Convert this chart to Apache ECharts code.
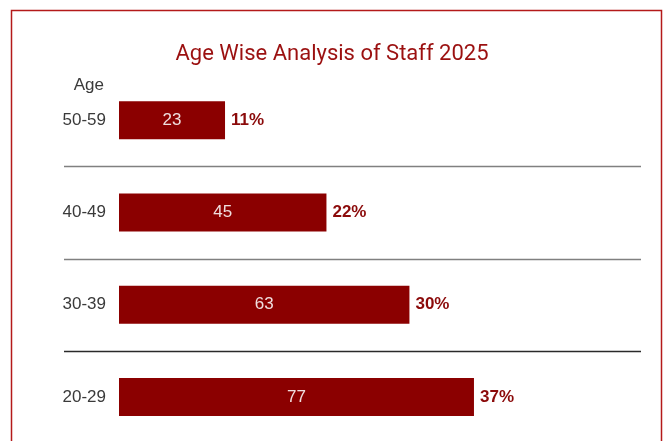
<!DOCTYPE html>
<html>
<head>
<meta charset="utf-8">
<script src="https://cdn.jsdelivr.net/npm/echarts@6/dist/echarts.min.js"></script>
<style>
  html, body { margin: 0; padding: 0; background: #ffffff; }
  #chart { width: 664px; height: 441px; }
</style>
</head>
<body>
<div id="chart"></div>
<script>
// Staff headcount by age band
const ageBands = ['50-59', '40-49', '30-39', '20-29'];
const staffCounts = [23, 45, 63, 77];
const percentLabels = ['11%', '22%', '30%', '37%'];

const chart = echarts.init(document.getElementById('chart'));

const option = {
  backgroundColor: '#ffffff',
  animation: false,
  title: {
    text: 'Age Wise Analysis of Staff 2025',
    left: 'center',
    top: 38,
    textStyle: {
      fontFamily: 'Roboto',
      fontSize: 22,
      fontWeight: 'normal',
      color: '#9b1010'
    }
  },
  grid: {
    left: 119,
    right: 84,
    top: 74,
    height: 369,
    outerBoundsMode: 'none'
  },
  xAxis: {
    type: 'value',
    min: 0,
    max: 100,
    show: false
  },
  yAxis: {
    type: 'category',
    data: ageBands,
    inverse: true,
    name: 'Age',
    nameLocation: 'start',
    nameGap: 0,
    nameTextStyle: {
      fontFamily: 'Liberation Sans',
      fontSize: 17,
      color: '#3a3a3a',
      align: 'right',
      verticalAlign: 'top',
      padding: [3, 15, 0, 0]
    },
    axisLine: { show: false },
    axisTick: { show: false },
    splitLine: { show: false },
    axisLabel: {
      margin: 13,
      fontFamily: 'Liberation Sans',
      fontSize: 17,
      color: '#3a3a3a'
    }
  },
  series: [
    {
      type: 'bar',
      data: staffCounts,
      barWidth: 38,
      itemStyle: { color: '#8b0000' },
      label: {
        show: true,
        position: 'inside',
        fontFamily: 'Liberation Sans',
        fontSize: 17,
        color: '#f0dede'
      }
    },
    {
      // percentage share label placed after each bar
      type: 'bar',
      data: staffCounts,
      barWidth: 38,
      barGap: '-100%',
      itemStyle: { color: 'transparent' },
      silent: true,
      label: {
        show: true,
        position: 'right',
        distance: 6,
        fontFamily: 'Liberation Sans',
        fontSize: 17,
        fontWeight: 'bold',
        color: '#8b0a0a',
        formatter: (p) => percentLabels[p.dataIndex]
      }
    }
  ]
};

chart.setOption(option);

// Frame and separators between the age bands
function drawDecor() {
  const graphics = [
    {
      type: 'rect',
      shape: { x: 11.5, y: 10.5, width: 650, height: 440 },
      style: { fill: 'none', stroke: '#b41a1a', lineWidth: 1.5 },
      silent: true,
      z: 10
    }
  ];
  const sepColors = ['#808080', '#808080', '#2a2a2a'];
  for (let i = 0; i < ageBands.length - 1; i++) {
    const y1 = chart.convertToPixel({ yAxisIndex: 0 }, ageBands[i]);
    const y2 = chart.convertToPixel({ yAxisIndex: 0 }, ageBands[i + 1]);
    const y = Math.round((y1 + y2) / 2) + 0.5;
    graphics.push({
      type: 'line',
      shape: { x1: 64, y1: y, x2: 641, y2: y },
      style: { stroke: sepColors[i], lineWidth: 1.6 },
      silent: true
    });
  }
  chart.setOption({ graphic: graphics });
}
drawDecor();
</script>
</body>
</html>
